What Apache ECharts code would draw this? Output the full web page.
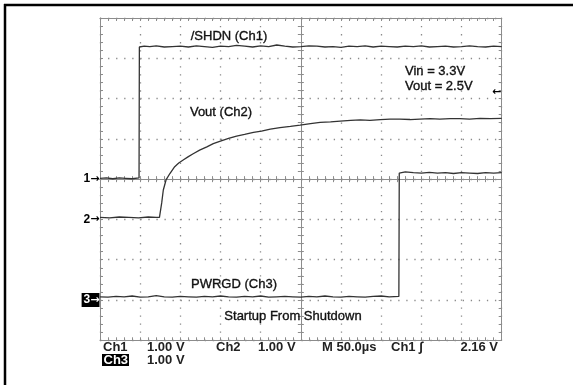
<!DOCTYPE html>
<html><head><meta charset="utf-8">
<script src="https://cdn.jsdelivr.net/npm/echarts@6/dist/echarts.min.js"></script>
<style>html,body{margin:0;padding:0;background:#fff}#c{width:573px;height:385px}</style>
</head><body><div id="c"></div>
<script>
// ---- data (time in µs, level in V) ----
const ch1Trace = [[0,0.02],[8,0.03],[16,0.01],[24,0.03],[32,0.02],[40,0.01],[48.6,0.03],[49,3.28],[55,3.30],[62,3.29],[70,3.31],[80,3.28],[90,3.29],[100,3.30],[110,3.28],[120,3.31],[130,3.29],[140,3.27],[150,3.30],[160,3.29],[170,3.32],[180,3.30],[190,3.28],[200,3.31],[210,3.29],[220,3.33],[230,3.30],[240,3.28],[250,3.29],[260,3.31],[270,3.30],[280,3.28],[290,3.29],[300,3.27],[310,3.30],[320,3.29],[330,3.31],[340,3.28],[350,3.30],[360,3.29],[370,3.28],[380,3.30],[390,3.29],[400,3.31],[410,3.28],[420,3.29],[430,3.30],[440,3.28],[450,3.29],[460,3.31],[470,3.29],[480,3.28],[490,3.30],[500,3.29]];
const ch2Trace = [[0,0.05],[12,0.04],[24,0.06],[36,0.05],[48,0.04],[60,0.06],[70,0.05],[74,0.05],[76.8,0.41],[78.8,0.73],[82.2,0.98],[87,1.14],[93,1.31],[98,1.40],[104,1.48],[110,1.56],[116,1.63],[124,1.72],[133,1.80],[141,1.88],[149,1.94],[160,2.01],[170,2.07],[180,2.11],[191,2.16],[201,2.19],[212,2.24],[224,2.28],[237,2.31],[249,2.34],[262,2.38],[274,2.41],[287,2.42],[299,2.44],[312,2.46],[324,2.47],[336,2.46],[349,2.48],[361,2.49],[373,2.49],[386,2.48],[398,2.49],[411,2.50],[423,2.49],[436,2.50],[448,2.50],[460,2.49],[473,2.51],[486,2.50],[500,2.51]];
const ch3Trace = [[0,0.08],[10,0.07],[20,0.09],[30,0.08],[40,0.10],[50,0.07],[60,0.08],[70,0.11],[80,0.08],[90,0.07],[100,0.09],[110,0.08],[120,0.07],[130,0.09],[140,0.08],[150,0.10],[160,0.08],[170,0.07],[180,0.09],[190,0.08],[200,0.10],[210,0.07],[220,0.08],[230,0.09],[240,0.08],[250,0.07],[260,0.09],[270,0.08],[280,0.10],[290,0.08],[300,0.07],[310,0.09],[320,0.08],[330,0.07],[340,0.09],[350,0.10],[360,0.08],[372,0.09],[372.5,3.15],[380,3.18],[390,3.16],[400,3.15],[410,3.17],[420,3.15],[430,3.16],[440,3.14],[450,3.16],[460,3.15],[470,3.14],[480,3.16],[490,3.15],[500,3.16]];
const channelNames = ['1', '2', '3'];
const triggerTime = 500, triggerLevel = 2.16;
const timeRange = [0, 500];            // 10 div × 50 µs
const voltsPerDiv = 1;
const channelGroundDivBelowCentre = [0, 1, 3];
const annotations = ['/SHDN (Ch1)', 'Vout (Ch2)', 'Vin = 3.3V', 'Vout = 2.5V', 'PWRGD (Ch3)', 'Startup From Shutdown'];
const readoutRow1 = ['Ch1', '1.00 V', 'Ch2', '1.00 V', 'M 50.0µs', 'Ch1 ∫', '2.16 V'];
const readoutRow2 = ['Ch3', '1.00 V'];

// ---- layout ----
const P = {left:100, top:18, width:401.7, height:322.3};
const hw = P.width/2, hh = P.height/2;
const GRID_C = '#8c8c8c';
const grids = [
  {left:P.left, top:P.top, width:P.width, height:P.height},
  {left:P.left, top:P.top, width:hw, height:hh},
  {left:P.left+hw, top:P.top, width:hw, height:hh},
  {left:P.left, top:P.top+hh, width:hw, height:hh},
  {left:P.left+hw, top:P.top+hh, width:hw, height:hh}
];
const DOT = {color:'#8a8a8a', width:1.3};
const xAxes = [{
  type:'value', gridIndex:0, min:timeRange[0], max:timeRange[1], interval:50,
  axisLine:{show:false}, axisTick:{show:false}, axisLabel:{show:false},
  splitLine:{show:true, lineStyle:Object.assign({type:[1.3,6.74]}, DOT)}
}];
const yAxes = channelGroundDivBelowCentre.map((o,i)=>({
  type:'value', gridIndex:0, min:(o-4)*voltsPerDiv, max:(o+4)*voltsPerDiv, interval:voltsPerDiv,
  axisLine:{show:false}, axisTick:{show:false}, axisLabel:{show:false},
  splitLine:{show:i===0, lineStyle:Object.assign({type:[1.3,6.76]}, DOT)}
}));
function decoAxis(gi, pos, isX){
  return {type:'value', gridIndex:gi, position:pos, min:0, max:isX?250:4, interval:isX?10:0.2,
    axisLine:{show:true, onZero:false, lineStyle:{color:GRID_C, width:1}},
    axisTick:{show:true, inside:true, length:3, lineStyle:{color:GRID_C, width:1}},
    axisLabel:{show:false}, splitLine:{show:false}};
}
for (let g=1; g<=4; g++){
  xAxes.push(decoAxis(g,'bottom',true), decoAxis(g,'top',true));
  yAxes.push(decoAxis(g,'left',false), decoAxis(g,'right',false));
}
const FONT = '"Liberation Sans", Arial, sans-serif';
function chanMark(name, inverted){
  const c = inverted ? '#fff' : '#000';
  return {
    show:true, position:'left', distance:0, formatter:'{n|' + name + '}{a|→}',
    backgroundColor: inverted ? '#000' : 'transparent', padding: inverted ? [1,0,1,2] : 0,
    rich:{
      n:{color:c, fontSize:12, fontWeight:'bold', fontFamily:FONT},
      a:{color:c, fontSize:11, fontWeight:'bold', fontFamily:'"DejaVu Sans", sans-serif'}
    }
  };
}
const traces = [ch1Trace, ch2Trace, ch3Trace];
const series = traces.map((tr,i)=>{
  const mpData = [{coord:[timeRange[0], 0], label: chanMark(channelNames[i], i===2)}];
  if (i===0) mpData.push({coord:[triggerTime, triggerLevel], label:{show:true, position:'left', distance:0, formatter:'←', color:'#000', fontSize:11, fontWeight:'bold', fontFamily:'"DejaVu Sans", sans-serif'}});
  return {
    type:'line', xAxisIndex:0, yAxisIndex:i, data:tr, symbol:'none', showSymbol:false,
    lineStyle:{color:'#333', width:1.3}, animation:false, z:5, silent:true,
    markPoint:{symbol:'circle', symbolSize:1, itemStyle:{color:'rgba(0,0,0,0)'}, animation:false, silent:true, data:mpData}
  };
});
function txt(text, x, y, align, font, fill, sw){
  const st = {text, x, y, textAlign:align, textVerticalAlign:'middle', font, fill};
  if (sw) { st.stroke = fill; st.lineWidth = sw; }
  return {type:'text', z:10, silent:true, style:st};
}
const AF = '13px ' + FONT, RF = 'bold 13px ' + FONT;
const annPos = [[229,36,'center'],[221,112,'center'],[405,71,'left'],[405,86,'left'],[234,284,'center'],[293,316,'center']];
const r1Pos = [[103,'left'],[147,'left'],[216,'left'],[258,'left'],[322,'left'],[391,'left'],[498,'right']];
const r2Pos = [[147,'left']];
const graphic = [
  {type:'line', z:10, silent:true, shape:{x1:4,y1:5,x2:573,y2:5}, style:{stroke:'#000', lineWidth:2.5}},
  {type:'line', z:10, silent:true, shape:{x1:5,y1:4,x2:5,y2:385}, style:{stroke:'#000', lineWidth:2.5}},
  ...annotations.map((t,i)=>txt(t, annPos[i][0], annPos[i][1], annPos[i][2], AF, '#111', 0.35)),
  ...readoutRow1.map((t,i)=>txt(t, r1Pos[i][0], 347, r1Pos[i][1], RF, '#222')),
  {type:'rect', z:10, silent:true, shape:{x:102, y:354, width:27, height:12}, style:{fill:'#000'}},
  txt(readoutRow2[0], 103.5, 360.5, 'left', RF, '#fff'),
  txt(readoutRow2[1], r2Pos[0][0], 360, r2Pos[0][1], RF, '#222')
];
const chart = echarts.init(document.getElementById('c'), null, {renderer:'canvas'});
chart.setOption({
  backgroundColor:'#fff', animation:false,
  grid:grids, xAxis:xAxes, yAxis:yAxes, series, graphic
});
</script></body></html>
